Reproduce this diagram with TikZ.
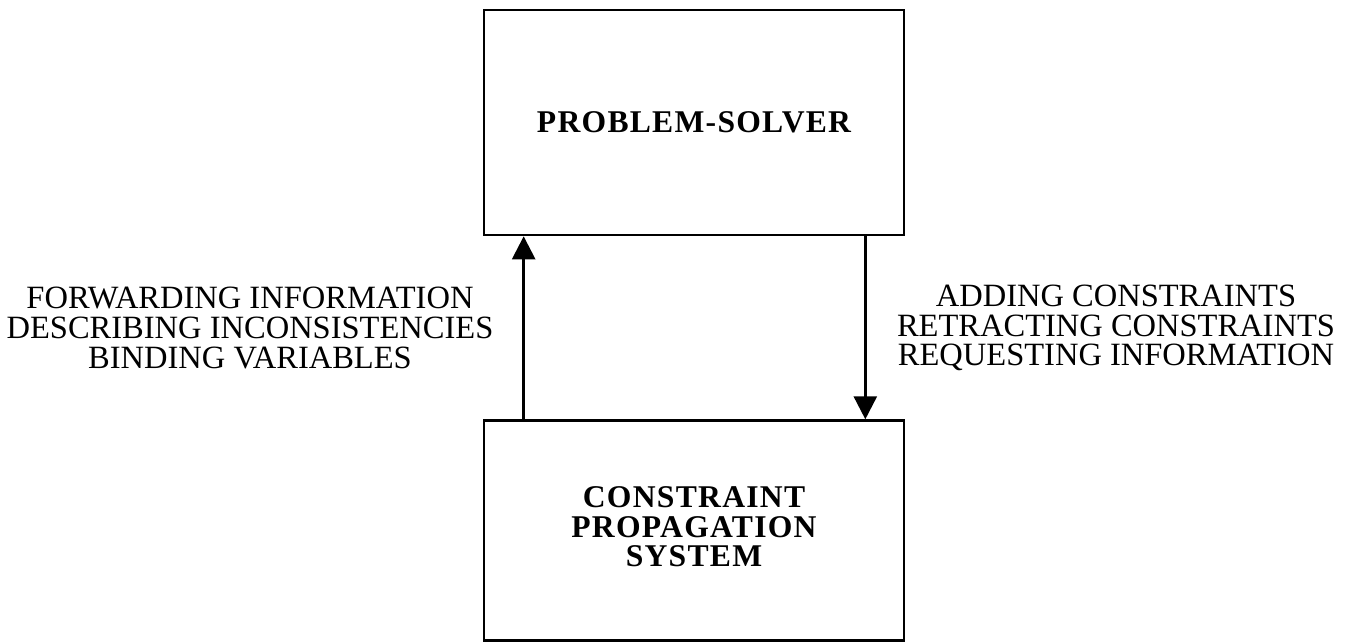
\documentclass[tikz,border=0pt]{standalone}
\usepackage{fontspec}
\setmainfont{Liberation Serif}
\usetikzlibrary{positioning,arrows.meta}
\begin{document}
\begin{tikzpicture}[
        box/.style={draw, line width=1.5pt, minimum width=8.4cm, minimum height=4.5cm,
            align=center, font=\fontsize{18}{16.6}\selectfont\bfseries\addfontfeature{LetterSpace=4}},
        note/.style={align=center, inner sep=0pt, font=\fontsize{18.5}{16.8}\selectfont},
        flow/.style={draw, line width=1.5pt, -{Triangle[length=4.6mm,width=4.6mm]}},
        node distance=3.66cm,
    ]
    \useasboundingbox (0,0) rectangle (26.98,-12.88);
    \node[box](solver) at (13.88,-2.45){PROBLEM-SOLVER};
    \node[box, below=of solver, minimum height=4.4cm](cps){CONSTRAINT\\PROPAGATION\\SYSTEM\\[-12pt]};
    % up: reports from the propagation system
    \draw[flow] ([xshift=0.82cm]cps.north west) -- ([xshift=0.82cm]solver.south west);
    % down: requests from the problem-solver
    \draw[flow] ([xshift=-0.8cm]solver.south east) -- ([xshift=-0.8cm]cps.north east);
    \node[note](up) at (5.0,-6.56){FORWARDING INFORMATION\\DESCRIBING INCONSISTENCIES\\BINDING VARIABLES};
    \node[note](down) at (22.32,-6.56){ADDING CONSTRAINTS\\RETRACTING CONSTRAINTS\\REQUESTING INFORMATION};
\end{tikzpicture}
\end{document}
